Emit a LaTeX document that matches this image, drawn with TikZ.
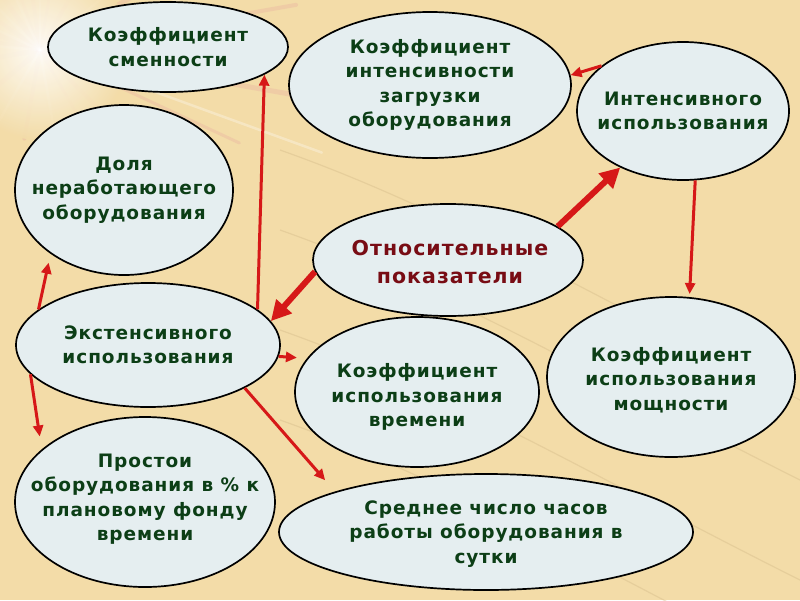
\documentclass[tikz,border=0pt]{standalone}
\usepackage{fontspec}
\setmainfont{DejaVu Sans}
\usetikzlibrary{arrows.meta,shapes.geometric}
\definecolor{bgc}{RGB}{243,220,168}
\definecolor{ellfill}{RGB}{229,238,240}
\definecolor{txtgreen}{RGB}{12,62,22}
\definecolor{txtred}{RGB}{120,12,20}
\definecolor{arrred}{RGB}{214,24,24}
\definecolor{raypink}{RGB}{232,168,160}
\definecolor{streak}{RGB}{215,190,140}
\begin{document}
\begin{tikzpicture}[x=1pt,y=-1pt,
  ell/.style={ellipse, draw=black, line width=1.7pt, fill=ellfill, inner sep=0pt},
  lbl/.style={align=center, text=txtgreen, font=\fontsize{18.5}{24.5}\selectfont\bfseries\addfontfeature{LetterSpace=5}},
  thinarrow/.style={draw=arrred, line width=3pt, -{Triangle[length=11pt,width=10pt]}},
  thickarrow/.style={draw=arrred, line width=6pt, -{Triangle[length=20pt,width=20pt]}}]
\useasboundingbox (0,0) rectangle (800,600);
% background
\fill[bgc] (0,0) rectangle (800,600);
\foreach \a/\l/\w in {170/200/5, 190/240/4, 200/280/6, 215/330/4, 235/380/5, 250/420/3, 262/400/4, 280/250/3, 300/180/4, 330/200/5, 350/260/4, 10/300/5, 25/220/3, 45/200/4, 60/120/3, 100/90/4, 140/100/5}
  \draw[raypink, opacity=0.3, line width=\w pt, line cap=round] (40,50) -- ++(\a:\l);
\foreach \a/\l in {185/200, 205/280, 225/340, 245/400, 320/240, 20/300, 80/160, 120/130, 270/300, 340/220}
  \draw[white, opacity=0.3, line width=2.5pt, line cap=round] (40,50) -- ++(\a:\l);
\shade[inner color=white, outer color=bgc, opacity=0.9] (40,50) circle (90);
\foreach \y in {150,230,330,420}
  \draw[streak, opacity=0.45, line width=1.2pt] (280,\y) .. controls (450,\y+60) and (600,\y+150) .. (800,\y+250);
% ellipses
\node[ell, minimum width=240pt, minimum height=90pt] (sm) at (168,47) {};
\node[lbl] (tsm) at (sm) {Коэффициент\\сменности};
\node[ell, minimum width=282pt, minimum height=146pt] (ki) at (430,85) {};
\node[lbl] (tki) at (ki) {Коэффициент\\интенсивности\\загрузки\\оборудования};
\node[ell, minimum width=212pt, minimum height=138pt] (int) at (683,111) {};
\node[lbl] (tint) at (int) {Интенсивного\\использования};
\node[ell, minimum width=218pt, minimum height=170pt] (dol) at (124,190) {};
\node[lbl] (tdol) at (dol) {Доля\\неработающего\\оборудования};
\node[ell, minimum width=270pt, minimum height=112pt] (rel) at (448,260) {};
\node[lbl, text=txtred, font=\fontsize{20.5}{28}\selectfont\bfseries\addfontfeature{LetterSpace=5}] (trel) at (450,262) {Относительные\\показатели};
\node[ell, minimum width=264pt, minimum height=124pt] (ext) at (148,345) {};
\node[lbl] (text) at (ext) {Экстенсивного\\использования};
\node[ell, minimum width=244pt, minimum height=150pt] (vr) at (417,392) {};
\node[lbl] (tvr) at (417,397) {Коэффициент\\использования\\времени};
\node[ell, minimum width=248pt, minimum height=160pt] (mo) at (671,377) {};
\node[lbl] (tmo) at (671,380) {Коэффициент\\использования\\мощности};
\node[ell, minimum width=260pt, minimum height=170pt] (pr) at (145,502) {};
\node[lbl] (tpr) at (145,499) {Простои\\оборудования в \% к\\плановому фонду\\времени};
\node[ell, minimum width=414pt, minimum height=116pt] (sr) at (486,532) {};
\node[lbl] (tsr) at (486,534) {Среднее число часов\\работы оборудования в\\сутки};
% arrows
\draw[thinarrow] (ext.18.8) -- (sm.-16.6);
\draw[thinarrow, shorten >=9pt] (ext.162) -- (dol.221.6);
\draw[thickarrow] (rel.185.8) -- (ext.11.1);
\draw[thickarrow] (rel.17.1) -- (int.222.1);
\draw[thinarrow] (int.151.2) -- (ki.4.9);
\draw[thinarrow, shorten >=3pt] (int.-80) -- (mo.77);
\draw[thinarrow, shorten >=10pt] (ext.-5.3) -- (vr.163.6);
\draw[thinarrow, shorten >=15pt] (ext.-24.4) -- (sr.165.7);
\draw[thinarrow, shorten >=13pt] (ext.194.6) -- (pr.153.8);
\end{tikzpicture}
\end{document}
